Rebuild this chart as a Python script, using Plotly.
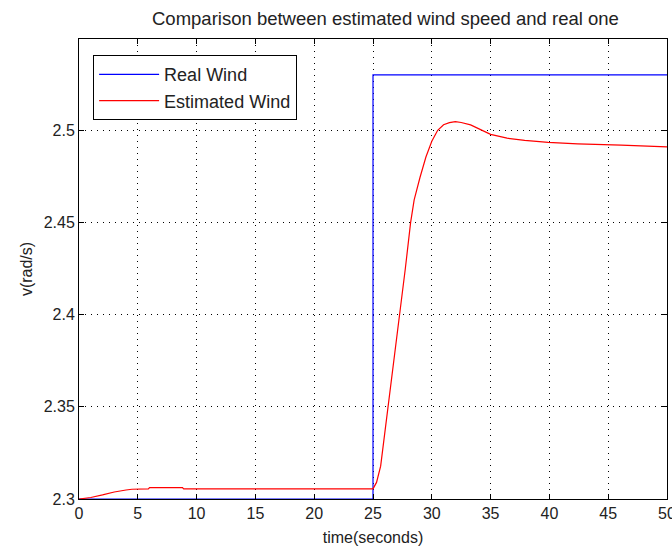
import plotly.graph_objects as go

# Data
t_real = [0, 25, 25, 50]
v_real = [2.300, 2.300, 2.530, 2.530]

t_est = [0, 1, 2, 3, 4, 4.5, 5.9, 6.0, 8.8, 8.9, 25.0, 25.3, 25.65, 26.0, 26.4,
         26.85, 27.3, 27.75, 28.2, 28.5, 29.0, 29.5, 30.0, 30.5, 31.0, 31.5, 32.0,
         32.5, 33.3, 34.2, 35.0, 36.4, 37.9, 39.9, 42.4, 46.1, 48.9, 50]
v_est = [2.300, 2.3008, 2.3022, 2.3038, 2.3049, 2.3053, 2.3055, 2.3062, 2.3062, 2.3055,
         2.3055, 2.309, 2.3178, 2.3359, 2.354, 2.377, 2.400, 2.425, 2.450, 2.4622,
         2.4745, 2.4855, 2.4940, 2.500, 2.5030, 2.5041, 2.5047, 2.5042, 2.5029,
         2.5000, 2.4978, 2.4957, 2.4945, 2.4934, 2.4926, 2.4919, 2.4911, 2.491]

x_ticks = [0, 5, 10, 15, 20, 25, 30, 35, 40, 45, 50]
y_ticks = [2.30, 2.35, 2.40, 2.45, 2.50]
y_tick_text = ["2.3", "2.35", "2.4", "2.45", "2.5"]

FONT = "Liberation Sans, Arial, sans-serif"
TXT = "#222"

fig = go.Figure()
fig.add_trace(go.Scatter(x=t_real, y=v_real, mode="lines", name="Real Wind",
                         line=dict(color="#0000FF", width=1.2)))
fig.add_trace(go.Scatter(x=t_est, y=v_est, mode="lines", name="Estimated Wind",
                         line=dict(color="#FF0000", width=1.2)))

axis_common = dict(
    showline=True, linecolor="black", linewidth=1, mirror="ticks",
    ticks="inside", ticklen=5, tickcolor="black", tickwidth=1,
    showgrid=True, gridcolor="black", gridwidth=1, griddash="1px,5px",
    zeroline=False, automargin=False,
    tickfont=dict(family=FONT, size=16, color=TXT),
)

fig.update_xaxes(range=[0, 50], tickvals=x_ticks, ticklabeloverflow="allow",
                 title=dict(text="time(seconds)", font=dict(family=FONT, size=16, color=TXT), standoff=10),
                 **axis_common)
fig.update_yaxes(range=[2.3, 2.5495], tickvals=y_ticks, ticktext=y_tick_text,
                 title=dict(text="v(rad/s)", font=dict(family=FONT, size=16, color=TXT), standoff=7),
                 **axis_common)

fig.update_layout(
    width=672, height=550,
    margin=dict(l=79, r=5, t=39, b=51),
    paper_bgcolor="white", plot_bgcolor="white",
    title=dict(text="Comparison between estimated wind speed and real one",
               font=dict(family=FONT, size=18.5, color=TXT),
               x=152 / 672, xanchor="left", y=1 - 19 / 550, yanchor="middle"),
    legend=dict(x=0.024, y=0.965, xanchor="left", yanchor="top",
                bgcolor="white", bordercolor="black", borderwidth=1,
                font=dict(family=FONT, size=18, color=TXT),
                itemwidth=60, tracegroupgap=0),
    showlegend=True,
)

fig.write_html("out.html")
